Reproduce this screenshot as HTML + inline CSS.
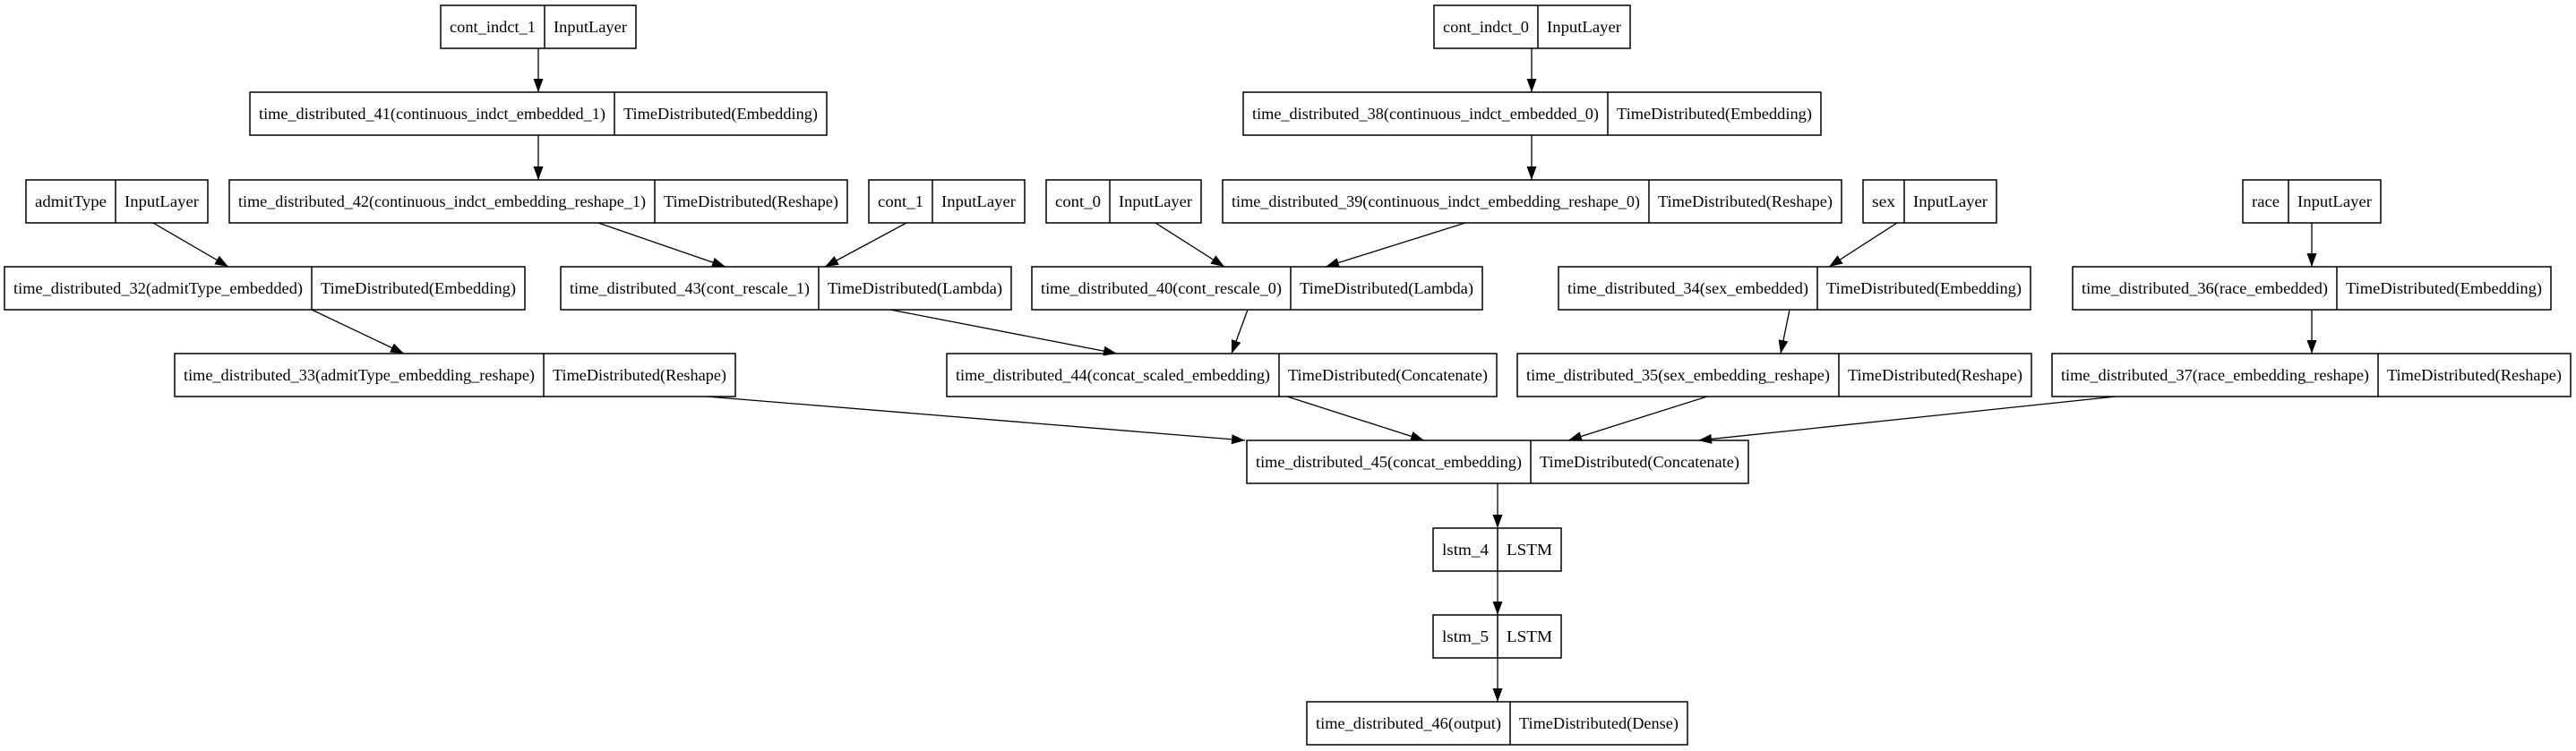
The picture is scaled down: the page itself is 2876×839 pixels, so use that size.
<!DOCTYPE html>
<html><head><meta charset="utf-8"><style>
html,body{margin:0;padding:0;background:#fff;}
svg{display:block;}
text{font-family:"Liberation Serif",serif;font-size:18px;fill:#000;text-anchor:middle;}
rect,line.d{fill:none;stroke:#000;stroke-width:1.5;}
line.e{stroke:#000;stroke-width:1.3;}
</style></head><body>
<svg width="2876" height="839" viewBox="0 0 2876 839" xmlns="http://www.w3.org/2000/svg">
<defs><marker id="a" markerUnits="userSpaceOnUse" markerWidth="16" markerHeight="12" refX="15" refY="6" orient="auto"><path d="M0,0.5 L15,6 L0,11.5 z" fill="#000"/></marker></defs>
<g>
<line class="e" x1="601" y1="54" x2="601" y2="103" marker-end="url(#a)"/>
<line class="e" x1="601" y1="151" x2="601" y2="201" marker-end="url(#a)"/>
<line class="e" x1="1710" y1="54" x2="1710" y2="103" marker-end="url(#a)"/>
<line class="e" x1="1710" y1="151" x2="1710" y2="201" marker-end="url(#a)"/>
<line class="e" x1="171" y1="249" x2="255" y2="298" marker-end="url(#a)"/>
<line class="e" x1="668" y1="249" x2="810" y2="298" marker-end="url(#a)"/>
<line class="e" x1="1012" y1="249" x2="921" y2="298" marker-end="url(#a)"/>
<line class="e" x1="348" y1="346" x2="451" y2="395" marker-end="url(#a)"/>
<line class="e" x1="1290" y1="249" x2="1367" y2="298" marker-end="url(#a)"/>
<line class="e" x1="1636" y1="249" x2="1480" y2="298" marker-end="url(#a)"/>
<line class="e" x1="994" y1="346" x2="1247" y2="395" marker-end="url(#a)"/>
<line class="e" x1="1393" y1="346" x2="1375" y2="395" marker-end="url(#a)"/>
<line class="e" x1="2118" y1="249" x2="2042" y2="298" marker-end="url(#a)"/>
<line class="e" x1="1998" y1="346" x2="1988" y2="395" marker-end="url(#a)"/>
<line class="e" x1="2581" y1="249" x2="2581" y2="298" marker-end="url(#a)"/>
<line class="e" x1="2581" y1="346" x2="2581" y2="395" marker-end="url(#a)"/>
<line class="e" x1="789" y1="443" x2="1390" y2="492" marker-end="url(#a)"/>
<line class="e" x1="1437" y1="443" x2="1590" y2="492" marker-end="url(#a)"/>
<line class="e" x1="1906" y1="443" x2="1751" y2="492" marker-end="url(#a)"/>
<line class="e" x1="2362" y1="443" x2="1896" y2="492" marker-end="url(#a)"/>
<line class="e" x1="1672" y1="540" x2="1672" y2="590" marker-end="url(#a)"/>
<line class="e" x1="1672" y1="638" x2="1672" y2="687" marker-end="url(#a)"/>
<line class="e" x1="1672" y1="735" x2="1672" y2="784" marker-end="url(#a)"/>
</g>
<g>
<rect x="492" y="6" width="218" height="48"/><line class="d" x1="608" y1="6" x2="608" y2="54"/>
<text x="550" y="36" textLength="96" lengthAdjust="spacingAndGlyphs">cont_indct_1</text><text x="659" y="36" textLength="82" lengthAdjust="spacingAndGlyphs">InputLayer</text>

<rect x="279" y="103" width="644" height="48"/><line class="d" x1="686" y1="103" x2="686" y2="151"/>
<text x="482.5" y="133" textLength="387" lengthAdjust="spacingAndGlyphs">time_distributed_41(continuous_indct_embedded_1)</text><text x="804.5" y="133" textLength="217" lengthAdjust="spacingAndGlyphs">TimeDistributed(Embedding)</text>

<rect x="29" y="201" width="203" height="48"/><line class="d" x1="129" y1="201" x2="129" y2="249"/>
<text x="79" y="231" textLength="80" lengthAdjust="spacingAndGlyphs">admitType</text><text x="180.5" y="231" textLength="83" lengthAdjust="spacingAndGlyphs">InputLayer</text>

<rect x="256" y="201" width="690" height="48"/><line class="d" x1="731" y1="201" x2="731" y2="249"/>
<text x="493.5" y="231" textLength="455" lengthAdjust="spacingAndGlyphs">time_distributed_42(continuous_indct_embedding_reshape_1)</text><text x="838.5" y="231" textLength="195" lengthAdjust="spacingAndGlyphs">TimeDistributed(Reshape)</text>

<rect x="5" y="298" width="581" height="48"/><line class="d" x1="348" y1="298" x2="348" y2="346"/>
<text x="176.5" y="328" textLength="323" lengthAdjust="spacingAndGlyphs">time_distributed_32(admitType_embedded)</text><text x="467" y="328" textLength="218" lengthAdjust="spacingAndGlyphs">TimeDistributed(Embedding)</text>

<rect x="626" y="298" width="503" height="48"/><line class="d" x1="914" y1="298" x2="914" y2="346"/>
<text x="770" y="328" textLength="268" lengthAdjust="spacingAndGlyphs">time_distributed_43(cont_rescale_1)</text><text x="1021.5" y="328" textLength="195" lengthAdjust="spacingAndGlyphs">TimeDistributed(Lambda)</text>

<rect x="195" y="395" width="626" height="48"/><line class="d" x1="607" y1="395" x2="607" y2="443"/>
<text x="401" y="425" textLength="392" lengthAdjust="spacingAndGlyphs">time_distributed_33(admitType_embedding_reshape)</text><text x="714" y="425" textLength="194" lengthAdjust="spacingAndGlyphs">TimeDistributed(Reshape)</text>

<rect x="1601" y="6" width="219" height="48"/><line class="d" x1="1717" y1="6" x2="1717" y2="54"/>
<text x="1659" y="36" textLength="96" lengthAdjust="spacingAndGlyphs">cont_indct_0</text><text x="1768.5" y="36" textLength="83" lengthAdjust="spacingAndGlyphs">InputLayer</text>

<rect x="1388" y="103" width="645" height="48"/><line class="d" x1="1795" y1="103" x2="1795" y2="151"/>
<text x="1591.5" y="133" textLength="387" lengthAdjust="spacingAndGlyphs">time_distributed_38(continuous_indct_embedded_0)</text><text x="1914" y="133" textLength="218" lengthAdjust="spacingAndGlyphs">TimeDistributed(Embedding)</text>

<rect x="970" y="201" width="174" height="48"/><line class="d" x1="1041" y1="201" x2="1041" y2="249"/>
<text x="1005.5" y="231" textLength="51" lengthAdjust="spacingAndGlyphs">cont_1</text><text x="1092.5" y="231" textLength="83" lengthAdjust="spacingAndGlyphs">InputLayer</text>

<rect x="1168" y="201" width="173" height="48"/><line class="d" x1="1239" y1="201" x2="1239" y2="249"/>
<text x="1203.5" y="231" textLength="51" lengthAdjust="spacingAndGlyphs">cont_0</text><text x="1290" y="231" textLength="82" lengthAdjust="spacingAndGlyphs">InputLayer</text>

<rect x="1365" y="201" width="691" height="48"/><line class="d" x1="1841" y1="201" x2="1841" y2="249"/>
<text x="1603" y="231" textLength="456" lengthAdjust="spacingAndGlyphs">time_distributed_39(continuous_indct_embedding_reshape_0)</text><text x="1948.5" y="231" textLength="195" lengthAdjust="spacingAndGlyphs">TimeDistributed(Reshape)</text>

<rect x="1152" y="298" width="503" height="48"/><line class="d" x1="1441" y1="298" x2="1441" y2="346"/>
<text x="1296.5" y="328" textLength="269" lengthAdjust="spacingAndGlyphs">time_distributed_40(cont_rescale_0)</text><text x="1548" y="328" textLength="194" lengthAdjust="spacingAndGlyphs">TimeDistributed(Lambda)</text>

<rect x="1740" y="298" width="527" height="48"/><line class="d" x1="2029" y1="298" x2="2029" y2="346"/>
<text x="1884.5" y="328" textLength="269" lengthAdjust="spacingAndGlyphs">time_distributed_34(sex_embedded)</text><text x="2148" y="328" textLength="218" lengthAdjust="spacingAndGlyphs">TimeDistributed(Embedding)</text>

<rect x="1057" y="395" width="614" height="48"/><line class="d" x1="1428" y1="395" x2="1428" y2="443"/>
<text x="1242.5" y="425" textLength="351" lengthAdjust="spacingAndGlyphs">time_distributed_44(concat_scaled_embedding)</text><text x="1549.5" y="425" textLength="223" lengthAdjust="spacingAndGlyphs">TimeDistributed(Concatenate)</text>

<rect x="1694" y="395" width="574" height="48"/><line class="d" x1="2053" y1="395" x2="2053" y2="443"/>
<text x="1873.5" y="425" textLength="339" lengthAdjust="spacingAndGlyphs">time_distributed_35(sex_embedding_reshape)</text><text x="2160.5" y="425" textLength="195" lengthAdjust="spacingAndGlyphs">TimeDistributed(Reshape)</text>

<rect x="2080" y="201" width="149" height="48"/><line class="d" x1="2126" y1="201" x2="2126" y2="249"/>
<text x="2103" y="231" textLength="26" lengthAdjust="spacingAndGlyphs">sex</text><text x="2177.5" y="231" textLength="83" lengthAdjust="spacingAndGlyphs">InputLayer</text>

<rect x="2504" y="201" width="154" height="48"/><line class="d" x1="2555" y1="201" x2="2555" y2="249"/>
<text x="2529.5" y="231" textLength="31" lengthAdjust="spacingAndGlyphs">race</text><text x="2606.5" y="231" textLength="83" lengthAdjust="spacingAndGlyphs">InputLayer</text>

<rect x="2314" y="298" width="534" height="48"/><line class="d" x1="2609" y1="298" x2="2609" y2="346"/>
<text x="2461.5" y="328" textLength="275" lengthAdjust="spacingAndGlyphs">time_distributed_36(race_embedded)</text><text x="2728.5" y="328" textLength="219" lengthAdjust="spacingAndGlyphs">TimeDistributed(Embedding)</text>

<rect x="2291" y="395" width="579" height="48"/><line class="d" x1="2655" y1="395" x2="2655" y2="443"/>
<text x="2473" y="425" textLength="344" lengthAdjust="spacingAndGlyphs">time_distributed_37(race_embedding_reshape)</text><text x="2762.5" y="425" textLength="195" lengthAdjust="spacingAndGlyphs">TimeDistributed(Reshape)</text>

<rect x="1392" y="492" width="560" height="48"/><line class="d" x1="1709" y1="492" x2="1709" y2="540"/>
<text x="1550.5" y="522" textLength="297" lengthAdjust="spacingAndGlyphs">time_distributed_45(concat_embedding)</text><text x="1830.5" y="522" textLength="223" lengthAdjust="spacingAndGlyphs">TimeDistributed(Concatenate)</text>

<rect x="1600" y="590" width="143" height="48"/><line class="d" x1="1672" y1="590" x2="1672" y2="638"/>
<text x="1636" y="620" textLength="52" lengthAdjust="spacingAndGlyphs">lstm_4</text><text x="1707.5" y="620" textLength="51" lengthAdjust="spacingAndGlyphs">LSTM</text>

<rect x="1600" y="687" width="143" height="48"/><line class="d" x1="1672" y1="687" x2="1672" y2="735"/>
<text x="1636" y="717" textLength="52" lengthAdjust="spacingAndGlyphs">lstm_5</text><text x="1707.5" y="717" textLength="51" lengthAdjust="spacingAndGlyphs">LSTM</text>

<rect x="1459" y="784" width="425" height="48"/><line class="d" x1="1686" y1="784" x2="1686" y2="832"/>
<text x="1572.5" y="814" textLength="207" lengthAdjust="spacingAndGlyphs">time_distributed_46(output)</text><text x="1785" y="814" textLength="178" lengthAdjust="spacingAndGlyphs">TimeDistributed(Dense)</text>
</g>
</svg>
</body></html>
